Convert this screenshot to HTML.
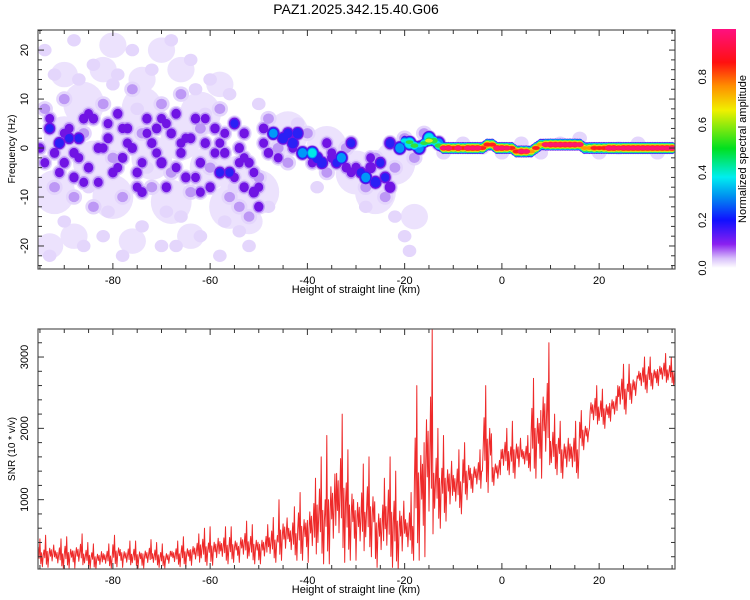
<!DOCTYPE html>
<html><head><meta charset="utf-8"><style>
body{margin:0;background:#fff;}
svg{display:block;font-family:"Liberation Sans",sans-serif;}
</style></head><body>
<svg id="chart" width="750" height="600" viewBox="0 0 750 600">
<defs>
<linearGradient id="cbar" x1="0" y1="1" x2="0" y2="0">
<stop offset="0" stop-color="#ffffff"/><stop offset="0.04" stop-color="#d8c0fa"/>
<stop offset="0.1" stop-color="#8a20f0"/><stop offset="0.2" stop-color="#1010ff"/>
<stop offset="0.3" stop-color="#0090f0"/><stop offset="0.38" stop-color="#00eef0"/>
<stop offset="0.5" stop-color="#00e020"/><stop offset="0.66" stop-color="#f0f000"/>
<stop offset="0.76" stop-color="#ff9000"/><stop offset="0.86" stop-color="#ff1010"/>
<stop offset="1" stop-color="#ff1080"/></linearGradient>
<clipPath id="clipTop"><rect x="38" y="30" width="637" height="239"/></clipPath>
<clipPath id="clipBot"><rect x="38" y="329" width="637" height="240"/></clipPath>
</defs>
<text x="356" y="14" font-size="14" text-anchor="middle">PAZ1.2025.342.15.40.G06</text>
<g id="heat" clip-path="url(#clipTop)"></g>
<g id="snr" clip-path="url(#clipBot)"></g>
<g id="axes"></g>
<rect x="712" y="29" width="24" height="239" fill="url(#cbar)"/>
<g id="cbaxis"></g>
<text transform="translate(746,149) rotate(-90)" font-size="11" text-anchor="middle">Normalized spectral amplitude</text>
</svg>
<script>
// ---- data ----
const xTicks=[-80,-60,-40,-20,0,20];
const freqTicks=[-20,-10,0,10,20];
const snrTicks=[1000,2000,3000];
const cbTicks=[0.0,0.2,0.4,0.6,0.8];
const cbTickLabels=["0.0","0.2","0.4","0.6","0.8"];
// SNR per 2 km bin: low and high envelope
const snrKm=[-95,-93,-91,-89,-87,-85,-83,-81,-79,-77,-75,-73,-71,-69,-67,-65,-63,-61,-59,-57,-55,-53,-51,-49,-47,-45,-43,-41,-39,-37,-35,-33,-31,-29,-27,-25,-23,-21,-19,-17,-15,-13,-11,-9,-7,-5,-3,-1,1,3,5,7,9,11,13,15,17,19,21,23,25,27,29,31,33,35];
const snrLow=[60,50,30,40,40,40,20,40,60,50,40,40,50,40,60,60,80,80,80,100,120,120,100,100,120,150,150,150,120,100,100,120,150,150,200,50,50,0,150,150,200,600,700,800,1000,1100,1100,1200,1350,1300,1400,1300,1300,1350,1300,1300,1700,2000,2000,2100,2200,2350,2500,2550,2600,2600];
const snrHigh=[450,500,450,480,520,400,380,380,500,420,420,440,400,380,420,480,520,600,620,620,620,700,650,650,750,1000,900,1100,1300,1600,1900,2200,1700,1500,1600,1300,1600,1400,1100,2600,3400,2000,1900,1700,1800,1700,2600,1700,2000,2100,1900,2700,3200,2200,2100,2100,2250,2600,2550,2600,2900,2900,3000,3000,3050,3000];
// broad low-amplitude background regions: km, Hz
const cloudKm=[-90,-84,-78,-72,-66,-60,-54,-50,-92,-86,-80,-74,-68,-62,-56,-90,-82,-74,-66,-58,-52,-88,-76,-64,-93,-80,-70,-44,-36,-30,-26,-22,-18];
const cloudHz=[2,-3,3,-2,2,-4,-6,-9,-9,9,-10,8,-11,7,-12,15,16,14,16,13,-15,-18,-19,-18,-20,21,20,3,0,-5,-9,-3,-14];
// spectrogram blobs: km, Hz, amplitude
const blobKm=[-93,-91,-89,-87,-90,-88,-86,-84,-83,-85,-81,-80,-79,-77,-76,-75,-73,-72,-70,-69,-68,-67,-66,-65,-63,-62,-61,-60,-59,-58,-56,-55,-54,-53,-52,-51,-50,-53,-49,-48,-47,-45,-44,-43,-42,-41,-39,-38,-37,-36,-35,-34,-33,-32,-31,-30,-29,-28,-27,-26,-25,-24,-23,-23,-21,-19,-17,-15,-13,-88,-92,-78,-74,-64,-57,-71,
-94,-92,-90,-88,-86,-84,-82,-80,-78,-76,-74,-72,-70,-68,-66,-64,-62,-60,-58,-56,-54,-52,-50,-48,-46,-44,-40,-36,-32,-28,-26,-24,-22,-20,-18,-16,
-95,-93,-91,-89,-87,-85,-83,-81,-79,-77,-75,-73,-71,-69,-67,-65,-63,-61,-59,-57,-55,-53,-51,-49,-94,-90,-86,-82,-78,-74,-70,-66,-62,-58,-54,-50,-46,-43,-39,-35,-31,-27,
-12,-8,-4,0,4,8,12,16,20,24,28,32,
-94,-92,-90,-88,-86,-84,-82,-80,-78,-76,-74,-72,-70,-68,-66,-64,-62,-60,-58,-56,-54,-52,-50,-48,-93,-87,-81,-75,-69,-63,-57,-85,-79,-73,-67,-61,-55,-22,-20,-28,-19,-38,-42];
const blobHz=[4,1,2,2,-3,-6,6,6,0,-4,2,-5,7,4,0,-5,6,1,-3,-8,3,7,-1,-6,6,-3,1,-8,4,-5,-5,5,0,-8,-3,-9,-12,3,4,-1,3,2,3,1,3,-1,-1,-2,-3,1,-2,-3,-2,-4,1,-4,-5,-6,-4,-7,-3,-6,-8,1,0,1,0,2,1,-1,-1,-2,-9,2,-1,4,
8,-8,10,-10,3,-12,9,-2,-10,12,3,-8,9,-5,11,-9,4,-4,8,-10,-12,-14,-6,6,0,-3,3,-5,0,-8,-2,-10,-4,2,-2,3,
0,6,-5,4,-2,7,-7,5,-4,1,-8,3,-1,5,-4,2,-6,6,-1,3,-6,-2,-5,1,-3,3,-7,0,4,-3,6,1,-9,1,-3,-8,-2,0,-3,-1,-5,-2,
-1,1,0,-1,1,-1,1,2,-1,0,1,-1,
20,15,-15,22,-20,17,-18,13,-22,20,-16,16,-20,22,-14,18,-18,14,-22,11,-17,-20,9,-12,-22,14,-13,8,-13,12,-15,-8,15,-4,-20,7,-8,-14,-18,-12,-21,-8,5];
const blobAmp=[0.2,0.22,0.2,0.2,0.15,0.15,0.15,0.15,0.15,0.15,0.15,0.15,0.15,0.15,0.15,0.15,0.15,0.15,0.17,0.15,0.15,0.15,0.15,0.15,0.15,0.15,0.15,0.15,0.15,0.2,0.2,0.2,0.15,0.15,0.15,0.17,0.15,0.15,0.15,0.15,0.28,0.25,0.22,0.25,0.25,0.3,0.35,0.25,0.25,0.15,0.15,0.2,0.3,0.15,0.2,0.15,0.2,0.3,0.18,0.25,0.2,0.2,0.18,0.22,0.3,0.4,0.3,0.4,0.3,0.15,0.15,0.15,0.15,0.15,0.15,0.15,
0.09,0.09,0.09,0.09,0.09,0.09,0.09,0.09,0.09,0.09,0.09,0.09,0.09,0.09,0.09,0.09,0.09,0.09,0.09,0.09,0.09,0.09,0.09,0.09,0.09,0.09,0.09,0.09,0.09,0.09,0.09,0.09,0.09,0.09,0.09,0.09,
0.14,0.14,0.14,0.14,0.14,0.14,0.14,0.14,0.14,0.14,0.14,0.14,0.14,0.14,0.14,0.14,0.14,0.14,0.14,0.14,0.14,0.14,0.14,0.14,0.14,0.14,0.14,0.14,0.14,0.14,0.14,0.14,0.14,0.14,0.14,0.14,0.14,0.14,0.14,0.14,0.14,0.14,
0.06,0.06,0.06,0.06,0.06,0.06,0.06,0.06,0.06,0.06,0.06,0.06,
0.05,0.05,0.05,0.05,0.05,0.05,0.05,0.05,0.05,0.05,0.05,0.05,0.05,0.05,0.05,0.05,0.05,0.05,0.05,0.05,0.05,0.05,0.05,0.05,0.05,0.05,0.05,0.05,0.05,0.05,0.05,0.05,0.05,0.05,0.05,0.05,0.05,0.05,0.05,0.05,0.05,0.05,0.05];
// dominant ridge: km, Hz, amplitude
const ridgeKm=[-20,-19,-18,-17,-16,-15,-14,-13,-12,-11,-10,-9,-8,-7,-6,-5,-4,-3,-2,-1,0,1,2,3,4,5,6,7,8,9,10,11,12,13,14,15,16,17,18,19,20,21,22,23,24,25,26,27,28,29,30,31,32,33,34,35];
const ridgeHz=[1.5,1.2,0.5,0.5,1.0,1.5,1.5,0.5,0,0,0,0,0,0,0,0,0,0.7,0.7,0,0,0,0,-0.7,-0.7,-0.7,-0.7,0,0.7,0.7,0.7,0.7,0.7,0.7,0.7,0.7,0.7,0,0,0,0,0,0,0,0,0,0,0,0,0,0,0,0,0,0,0];
const ridgeAmp=[0.35,0.45,0.5,0.35,0.45,0.6,0.55,0.5,0.9,0.95,0.85,0.95,0.85,0.95,0.95,0.95,0.8,0.85,0.8,0.95,0.95,0.9,0.8,0.85,0.95,0.9,0.75,0.8,0.7,0.9,0.95,0.95,0.95,0.95,0.95,0.95,0.9,0.7,0.75,0.85,0.8,0.85,0.95,0.95,0.9,0.95,0.95,0.95,0.95,0.95,0.95,0.95,0.95,0.95,0.95,0.95];

// ---- scales ----
const NS="http://www.w3.org/2000/svg";
const X0=38,X1=675,KM0=-95.4,KM1=35.6;
const xs=k=>X0+(k-KM0)/(KM1-KM0)*(X1-X0);
const TY0=30,TY1=269,HZ0=24.1,HZ1=-24.7;
const fy=h=>TY0+(HZ0-h)/(HZ0-HZ1)*(TY1-TY0);
const BY0=329,BY1=569,S0=3393,S1=28;
const sy=v=>BY0+(S0-v)/(S0-S1)*(BY1-BY0);
function mk(tag,attrs,parent){const e=document.createElementNS(NS,tag);for(const k in attrs)e.setAttribute(k,attrs[k]);parent.appendChild(e);return e;}

// ---- heatmap ----
const heat=document.getElementById('heat');
const pxk=(X1-X0)/(KM1-KM0),pxh=(TY1-TY0)/(HZ0-HZ1);
for(let i=0;i<cloudKm.length;i++){
 const big=Math.abs(cloudHz[i])<13;
 const c=mk('ellipse',{cx:xs(cloudKm[i]),cy:fy(cloudHz[i]),rx:(big?4.2:2.8)*pxk,ry:(big?4.5:2.6)*pxh,fill:"#ece2fd"},heat);
 
 
}
const levels=[0.03,0.08,0.13,0.2,0.27,0.35,0.45,0.58,0.7,0.8,0.88];
const levelColors=["#e4d6fc","#bd98f5","#7014e4","#2a20f5","#0098f8","#00e8e8","#30e040","#d8f020","#ff9a00","#ff2020","#ff1870"];
const pts=[];
for(let i=0;i<blobKm.length;i++){const a=blobAmp[i];const light=a<0.07;const mid=a<0.1;
 pts.push({k:blobKm[i],h:blobHz[i],a:a,rx:light?2.0:(mid?2.0:1.7),ry:light?1.8:(mid?1.9:1.8),ridge:false});}
for(let i=0;i<ridgeKm.length;i++){for(const d of [0,0.5]){if(i+1>=ridgeKm.length&&d>0)continue;
 const k=ridgeKm[i]+d,h=d?(ridgeHz[i]+ridgeHz[i+1])/2:ridgeHz[i],a=d?Math.min(ridgeAmp[i],ridgeAmp[i+1])-0.08:ridgeAmp[i];
 pts.push({k:k,h:h,a:a,rx:0.8,ry:1.3,ridge:true});}}
levels.forEach((L,li)=>{
 pts.forEach(p=>{if(p.a<L)return;
  const f=p.ridge?Math.max(0.3,Math.pow(1-0.97*L/p.a,0.5)):0.5+0.5*(1-L/p.a);
  const e=mk('ellipse',{cx:xs(p.k),cy:fy(p.h),rx:p.rx*pxk*(p.ridge?1:f),ry:p.ry*pxh*f,fill:levelColors[li]},heat);
  
  
 });
});

// ---- SNR series ----
const pattern=[0.35,0.55,0.2,0.45,0.7,0.3,1.0,0.1,0.5,0.0,0.4,0.6];
let d="";const N=pattern.length;
for(let i=0;i<snrKm.length;i++){for(let j=0;j<N;j++){
 const k=snrKm[i]-1+2*j/N;const t=pattern[(j+i*5)%N];
 const v=snrLow[i]+(snrHigh[i]-snrLow[i])*t;
 d+=(d?"L":"M")+xs(k).toFixed(1)+","+sy(v).toFixed(1);}}
const line=mk('path',{d:d,fill:"none",stroke:"#ee2a2a","stroke-width":1,"stroke-linejoin":"round"},document.getElementById('snr'));



// ---- axes ----
const ax=document.getElementById('axes');
function frame(y0,y1,name){const r=mk('rect',{x:X0,y:y0,width:X1-X0,height:y1-y0,fill:"none",stroke:"#555","stroke-width":1.2},ax);
 }
frame(TY0,TY1,'top-plot-frame');frame(BY0,BY1,'bottom-plot-frame');
function xAxis(y0,y1,tag){
 for(let k=-95;k<=35;k+=5){const x=xs(k),maj=k%20===0;
  mk('line',{x1:x,x2:x,y1:y1,y2:y1-(maj?6:4),stroke:"#333"},ax);mk('line',{x1:x,x2:x,y1:y0,y2:y0+(maj?6:4),stroke:"#333"},ax);}
 xTicks.forEach(k=>{const t=mk('text',{x:xs(k),y:y1+15,"font-size":11,"text-anchor":"middle"},ax);t.textContent=k;
  });
 const l=mk('text',{x:356,y:y1+24,"font-size":11,"text-anchor":"middle"},ax);l.textContent="Height of straight line (km)";
 }
xAxis(TY0,TY1,'top');xAxis(BY0,BY1,'bottom');
for(let h=-24;h<=24;h+=2){const y=fy(h),maj=h%10===0;mk('line',{x1:X0,x2:X0+(maj?6:4),y1:y,y2:y,stroke:"#333"},ax);mk('line',{x1:X1,x2:X1-(maj?6:4),y1:y,y2:y,stroke:"#333"},ax);}
freqTicks.forEach(h=>{const t=mk('text',{transform:`translate(28,${fy(h)}) rotate(-90)`,"font-size":11,"text-anchor":"middle"},ax);t.textContent=h;
 });
let yt=mk('text',{transform:`translate(15,149) rotate(-90)`,"font-size":10,"text-anchor":"middle"},ax);yt.textContent="Frequency (Hz)";

for(let v=200;v<=3200;v+=200){const y=sy(v),maj=v%1000===0;mk('line',{x1:X0,x2:X0+(maj?6:4),y1:y,y2:y,stroke:"#333"},ax);mk('line',{x1:X1,x2:X1-(maj?6:4),y1:y,y2:y,stroke:"#333"},ax);}
snrTicks.forEach(v=>{const t=mk('text',{transform:`translate(28,${sy(v)}) rotate(-90)`,"font-size":11,"text-anchor":"middle"},ax);t.textContent=v;
 });
yt=mk('text',{transform:`translate(15,449) rotate(-90)`,"font-size":10,"text-anchor":"middle"},ax);yt.textContent="SNR (10 * v/v)";

const cb=document.getElementById('cbaxis');
cbTicks.forEach((c,i)=>{const y=268-c*239;const t=mk('text',{transform:`translate(706,${y}) rotate(-90)`,"font-size":11,"text-anchor":"middle"},cb);t.textContent=cbTickLabels[i];
 });
</script>
</body></html>
